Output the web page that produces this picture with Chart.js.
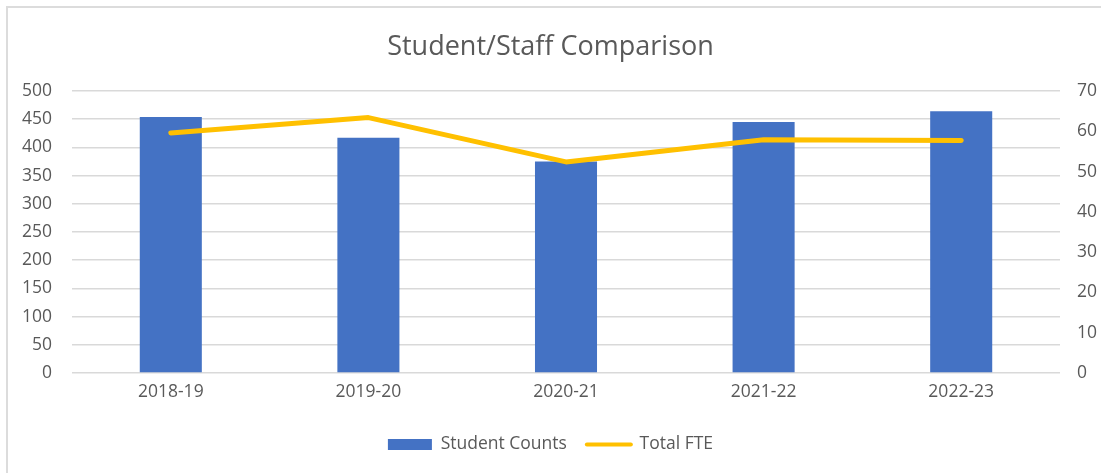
<!DOCTYPE html>
<html>
<head>
<meta charset="utf-8">
<script src="https://cdn.jsdelivr.net/npm/chart.js@4.4.1/dist/chart.umd.min.js"></script>
<style>
  html, body { margin: 0; padding: 0; background: #ffffff; }
  #wrap { position: relative; width: 1101px; height: 473px; overflow: hidden; background: #ffffff; }
  #frame { position: absolute; left: 6px; top: 6px; width: 1200px; height: 600px;
           border: 2px solid #dcdcdc; box-sizing: border-box; }
  #chart { position: absolute; left: 0; top: 0; }
</style>
</head>
<body>
<div id="wrap">
  <div id="frame"></div>
  <canvas id="chart" width="1101" height="473"></canvas>
</div>
<script>
// School years shown along the bottom axis
const years = ['2018-19', '2019-20', '2020-21', '2021-22', '2022-23'];
// Enrolled students per year (left axis)
const studentCounts = [454, 417, 375, 445, 464];
// Total staff full-time equivalents per year (right axis)
const totalFTE = [59.6, 63.4, 52.4, 57.9, 57.7];
// Axis ranges and steps
const countAxis = { min: 0, max: 500, step: 50 };
const fteAxis = { min: 0, max: 70, step: 10 };

const FONT = '"Open Sans", Lato, sans-serif';
const TEXT = '#595959';
const GRID = '#d9d9d9';
const BLUE = '#4472c4';
const GOLD = '#ffc000';
const LABEL_SIZE = 17.5;

const baseLabels = Chart.defaults.plugins.legend.labels.generateLabels;

new Chart(document.getElementById('chart'), {
  data: {
    labels: years,
    datasets: [
      {
        type: 'line',
        label: 'Total FTE',
        data: totalFTE,
        yAxisID: 'yFte',
        borderColor: GOLD,
        backgroundColor: GOLD,
        borderWidth: 5,
        borderCapStyle: 'round',
        borderJoinStyle: 'round',
        pointRadius: 0,
        pointHoverRadius: 0,
        tension: 0,
        fill: false
      },
      {
        type: 'bar',
        label: 'Student Counts',
        data: studentCounts,
        yAxisID: 'yCount',
        backgroundColor: BLUE,
        borderWidth: 0,
        barPercentage: 1,
        categoryPercentage: 0.314
      }
    ]
  },
  options: {
    responsive: false,
    animation: false,
    layout: { padding: { top: 0, left: 0, right: 0, bottom: 9.75 } },
    plugins: {
      tooltip: { enabled: false },
      title: {
        display: true,
        text: 'Student/Staff Comparison',
        color: TEXT,
        font: { family: FONT, size: 27, weight: 'normal', lineHeight: 1.2 },
        padding: { top: 31, bottom: 27.6 }
      },
      legend: {
        position: 'bottom',
        labels: {
          color: TEXT,
          font: { family: FONT, size: LABEL_SIZE },
          usePointStyle: true,
          pointStyleWidth: 44,
          boxHeight: 11,
          padding: 20,
          sort: (a, b) => b.datasetIndex - a.datasetIndex,
          generateLabels: (chart) => baseLabels(chart).map((item) => {
            const ds = chart.data.datasets[item.datasetIndex];
            if (ds.type === 'line') {
              item.pointStyle = 'line';
              item.strokeStyle = GOLD;
              item.lineWidth = 4;
              item.lineCap = 'round';
            } else {
              item.pointStyle = 'rect';
              item.fillStyle = BLUE;
              item.lineWidth = 0;
            }
            return item;
          })
        }
      }
    },
    scales: {
      x: {
        grid: { display: false, drawTicks: false },
        border: { display: false },
        ticks: { color: TEXT, font: { family: FONT, size: LABEL_SIZE }, padding: 9 },
        afterFit: (s) => { s.height = 42.75; }
      },
      yCount: {
        position: 'left',
        min: countAxis.min,
        max: countAxis.max,
        ticks: { stepSize: countAxis.step, color: TEXT, font: { family: FONT, size: LABEL_SIZE }, padding: 20 },
        grid: { color: GRID, lineWidth: 1.5, drawTicks: false },
        border: { display: false },
        afterFit: (s) => { s.width = 72; }
      },
      yFte: {
        position: 'right',
        min: fteAxis.min,
        max: fteAxis.max,
        ticks: { stepSize: fteAxis.step, color: TEXT, font: { family: FONT, size: LABEL_SIZE }, padding: 17 },
        grid: { display: false, drawTicks: false },
        border: { display: false },
        afterFit: (s) => { s.width = 41; }
      }
    }
  }
});
</script>
</body>
</html>
